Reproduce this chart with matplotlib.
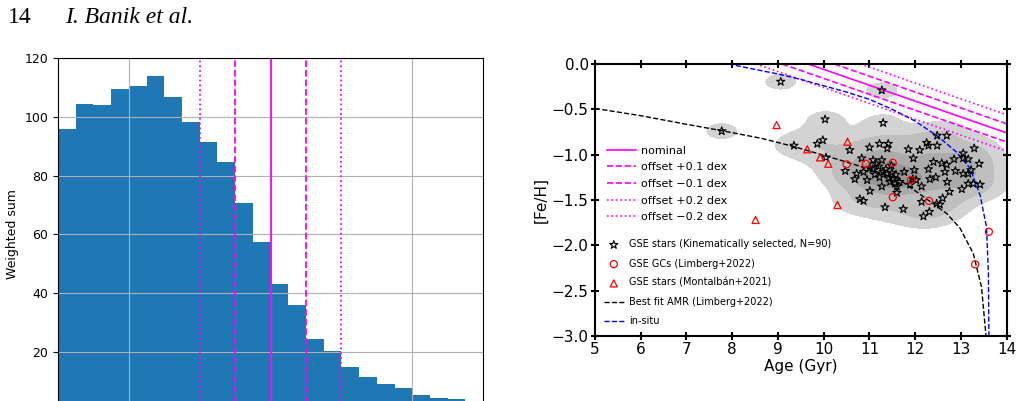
import numpy as np
from matplotlib import pyplot as plt

# left panel: weighted histogram of offsets (dex)
bin_edges = np.linspace(-0.6, 0.6, 25)
hist_counts = [96.0, 104.4, 103.9, 109.6, 110.4, 114.0, 106.6, 98.1, 91.5, 84.5,
               70.8, 57.3, 43.2, 36.1, 24.4, 20.3, 14.8, 11.7, 9.2, 7.7,
               5.3, 4.5, 4.0, 2.5]
offsets = [0.0, 0.1, -0.1, 0.2, -0.2]
offset_labels = ['nominal', 'offset +0.1 dex', 'offset \u22120.1 dex',
                 'offset +0.2 dex', 'offset \u22120.2 dex']
offset_styles = ['-', '--', '--', ':', ':']

# right panel: age-metallicity plane
# nominal relation: two points
nominal_age = [9.66, 14.0]
nominal_feh = [0.0, -0.76]

amr_age = [5.0, 6.0, 7.0, 7.77, 8.64, 9.34, 10.36, 11.0, 11.67, 12.17, 12.69,
           12.98, 13.27, 13.45, 13.53, 13.56]
amr_feh = [-0.49, -0.57, -0.665, -0.735, -0.82, -0.91, -1.06, -1.16, -1.28,
           -1.46, -1.65, -1.81, -2.09, -2.46, -2.9, -3.05]

insitu_age = [7.92, 8.5, 9.0, 9.5, 10.0, 10.5, 11.0, 11.5, 12.0, 12.5, 12.9,
              13.2, 13.42, 13.56, 13.6, 13.61, 13.62]
insitu_feh = [0.0, -0.06, -0.11, -0.17, -0.24, -0.31, -0.39, -0.5, -0.63,
              -0.8, -0.97, -1.15, -1.45, -1.8, -2.3, -2.95, -3.05]

star_age = [9.06, 11.27, 7.77, 10.03, 9.35, 9.86, 9.98, 10.05, 11.30, 12.48,
            12.69, 12.25, 12.29, 12.48, 10.57, 11.00, 11.22, 11.41, 11.39, 11.85,
            13.29, 13.05, 11.96, 12.58, 12.69, 12.65, 13.05, 13.16, 13.40, 10.83,
            11.08, 11.27, 10.47, 10.72, 10.68, 10.87, 11.01, 11.07, 11.30, 11.38,
            11.49, 11.52, 11.56, 11.60, 11.76, 11.95, 12.02, 12.29, 12.32, 12.45,
            12.70, 11.01, 11.27, 11.89, 12.75, 13.02, 13.16, 13.27, 13.42, 10.79,
            10.87, 11.34, 11.74, 12.14, 12.18, 12.31, 12.47, 12.54, 13.05, 13.16,
            11.15, 11.20, 11.42, 11.45, 11.36, 11.12, 11.58, 11.22, 12.14, 11.98,
            12.40, 12.88, 13.22, 12.10, 11.60, 12.60, 11.48, 10.95, 12.85, 11.66]
star_feh = [-0.195, -0.29, -0.74, -0.61, -0.90, -0.88, -0.84, -1.03, -0.65, -0.79,
            -0.79, -0.87, -0.90, -0.90, -0.95, -0.92, -0.88, -0.88, -0.93, -0.94,
            -0.93, -0.985, -1.04, -1.095, -1.11, -1.19, -1.21, -1.21, -1.10, -1.04,
            -1.06, -1.06, -1.18, -1.21, -1.27, -1.19, -1.15, -1.16, -1.19, -1.21,
            -1.20, -1.26, -1.32, -1.35, -1.19, -1.27, -1.28, -1.16, -1.27, -1.25,
            -1.30, -1.40, -1.35, -1.33, -1.41, -1.38, -1.32, -1.32, -1.33, -1.49,
            -1.51, -1.58, -1.60, -1.52, -1.68, -1.63, -1.54, -1.55, -1.04, -1.05,
            -1.10, -1.13, -1.26, -1.30, -1.16, -1.22, -1.22, -1.25, -1.35, -1.17,
            -1.08, -1.18, -1.17, -0.95, -1.42, -1.48, -1.12, -1.28, -1.05, -1.30]

gc_age = [10.50, 10.92, 11.51, 11.91, 11.51, 12.30, 13.61, 13.31]
gc_feh = [-1.107, -1.10, -1.09, -1.28, -1.47, -1.51, -1.85, -2.21]

mont_age = [8.97, 8.51, 10.52, 9.64, 9.92, 10.10, 10.30]
mont_feh = [-0.673, -1.72, -0.857, -0.941, -1.03, -1.10, -1.555]

fig = plt.figure(figsize=(10.22, 4.01), dpi=100)
fig.text(0.008, 0.942, '14', family='Liberation Serif', fontsize=17, va='baseline')
fig.text(0.0636, 0.942, 'I. Banik et al.', family='Liberation Serif', style='italic',
         fontsize=17, va='baseline')

# ---- left panel (bottom runs off the page, as in the paper crop)
ax1 = fig.add_axes([0.0568, -0.0249, 0.4159, 0.8803])
centres = 0.5 * (bin_edges[1:] + bin_edges[:-1])
ax1.hist(centres, bins=bin_edges, weights=hist_counts, color='#1f77b4')
for off, ls in zip(offsets, offset_styles):
    ax1.axvline(off, color='magenta', ls=ls, lw=1.3)
ax1.set_xlim(-0.6, 0.6)
ax1.set_ylim(0, 120)
ax1.set_xticks([-0.4, 0.0, 0.4])
ax1.set_yticks(np.arange(20, 121, 20))
ax1.grid(True, color='#b0b0b0', lw=0.8)
ax1.tick_params(labelsize=9)
ax1.tick_params(axis='x', labelbottom=False)
ax1.set_ylabel('Weighted sum', fontsize=9)

# ---- right panel
ax2 = fig.add_axes([0.5822, 0.1621, 0.4028, 0.6783])

# KDE of the kinematically selected stars
gx = np.linspace(5, 14, 361)
gy = np.linspace(-3, 0, 241)
X, Y = np.meshgrid(gx, gy)
sx, sy = 0.4, 0.1
dens = np.zeros_like(X)
for a, f in zip(star_age, star_feh):
    dens += np.exp(-0.5 * ((X - a) / sx) ** 2 - 0.5 * ((Y - f) / sy) ** 2)
top = dens.max()
ax2.contourf(X, Y, dens, levels=[0.72, 0.16 * top, 0.4 * top, 0.65 * top, top + 1],
             colors=['#d3d3d3', '#bfbfbf', '#ababab', '#979797'], zorder=0)

line_handles = []
for off, lab, ls in zip(offsets, offset_labels, offset_styles):
    h = ax2.axline((nominal_age[0], nominal_feh[0] + off),
                   (nominal_age[1], nominal_feh[1] + off),
                   color='magenta', ls=ls, lw=1.2, label=lab)
    line_handles.append(h)

h_star = ax2.scatter(star_age, star_feh, marker='*', s=38, facecolors='none',
                     edgecolors='k', linewidths=0.8, zorder=3,
                     label='GSE stars (Kinematically selected, N=90)')
h_gc = ax2.scatter(gc_age, gc_feh, marker='o', s=26, facecolors='none',
                   edgecolors='red', linewidths=0.9, zorder=4,
                   label='GSE GCs (Limberg+2022)')
h_mont = ax2.scatter(mont_age, mont_feh, marker='^', s=26, facecolors='none',
                     edgecolors='red', linewidths=0.9, zorder=4,
                     label='GSE stars (Montalb\u00e1n+2021)')
h_amr, = ax2.plot(amr_age, amr_feh, 'k--', lw=1.0, zorder=2,
                  label='Best fit AMR (Limberg+2022)')
h_ins, = ax2.plot(insitu_age, insitu_feh, 'b--', lw=1.0, zorder=2, label='in-situ')

ax2.set_xlim(5, 14)
ax2.set_ylim(-3, 0)
ax2.set_xticks(np.arange(5, 15, 1))
ax2.set_yticks(np.arange(-3, 0.01, 0.5))
for s in ax2.spines.values():
    s.set_linewidth(1.5)
ax2.tick_params(direction='inout', length=6, width=1.5, top=True, right=True,
                labelsize=11, pad=1.5)
ax2.set_xlabel('Age (Gyr)', fontsize=11, labelpad=1)
ax2.set_ylabel('[Fe/H]', fontsize=11, labelpad=2)

leg1 = ax2.legend(handles=line_handles, loc='upper left', bbox_to_anchor=(0.03, 0.70),
                  frameon=False, fontsize=8, borderpad=0, borderaxespad=0,
                  labelspacing=0.6, handlelength=2.6, handletextpad=0.4)
ax2.add_artist(leg1)
ax2.legend(handles=[h_star, h_gc, h_mont, h_amr, h_ins], loc='upper left',
           bbox_to_anchor=(0.022, 0.355), frameon=False, fontsize=7, borderpad=0,
           borderaxespad=0, labelspacing=0.95, scatterpoints=1, handletextpad=0.6)

fig.savefig('out.png', dpi=100)
